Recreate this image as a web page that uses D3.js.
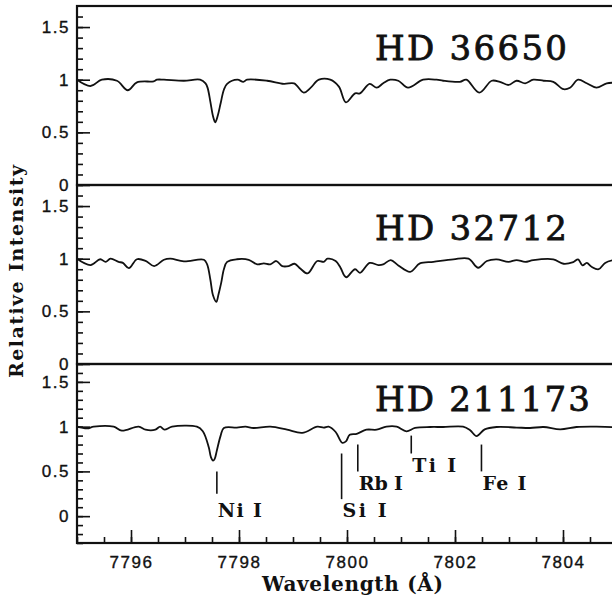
<!DOCTYPE html>
<html>
<head>
<meta charset="utf-8">
<script src="https://cdn.jsdelivr.net/npm/d3@7"></script>
<style>
  body { margin: 0; background: #fff; }
  svg { display: block; }
  .tick text { font-family: "Liberation Sans", Arial, sans-serif; font-size: 17px; fill: #111; stroke: #111; stroke-width: 0.35; letter-spacing: 1.5px; }
  .tick line { stroke: #111; stroke-width: 1.6; }
</style>
</head>
<body>
<svg width="612" height="609"></svg>
<script>
// spectra: [wavelength (A), relative intensity]
const hd36650 = [[7795.00,1.00],[7795.25,0.94],[7795.46,1.00],[7795.74,0.99],[7795.94,0.90],[7796.11,0.975],[7796.42,0.985],[7796.48,1.00],[7796.61,1.00],[7796.98,0.99],[7797.28,1.00],[7797.38,0.965],[7797.42,0.92],[7797.47,0.79],[7797.52,0.65],[7797.56,0.595],[7797.61,0.665],[7797.66,0.776],[7797.72,0.905],[7797.78,0.96],[7797.97,1.00],[7798.08,0.98],[7798.15,1.00],[7798.52,0.99],[7798.83,0.96],[7799.02,0.965],[7799.20,0.877],[7799.32,0.92],[7799.48,1.00],[7799.69,1.00],[7799.85,0.934],[7799.98,0.785],[7800.15,0.87],[7800.24,0.87],[7800.42,0.96],[7800.55,0.924],[7800.67,0.966],[7800.80,1.00],[7800.95,0.99],[7801.13,0.924],[7801.41,1.00],[7801.66,1.00],[7801.78,0.99],[7802.09,0.98],[7802.21,1.00],[7802.45,0.877],[7802.68,0.99],[7802.83,0.98],[7802.99,0.95],[7803.14,0.99],[7803.30,0.966],[7803.45,1.00],[7803.64,0.99],[7803.82,0.98],[7804.01,0.91],[7804.13,0.924],[7804.28,1.00],[7804.44,0.966],[7804.62,0.924],[7804.81,0.966],[7805.00,0.97]]

const hd32712 = [[7795.00,1.00],[7795.25,0.94],[7795.43,0.995],[7795.53,0.97],[7795.62,1.00],[7795.77,0.97],[7795.85,0.96],[7795.96,0.91],[7796.11,0.995],[7796.27,0.98],[7796.43,0.93],[7796.61,0.99],[7796.73,1.00],[7796.98,0.975],[7797.35,0.99],[7797.41,0.946],[7797.47,0.80],[7797.52,0.65],[7797.58,0.59],[7797.62,0.66],[7797.67,0.77],[7797.72,0.90],[7797.78,0.97],[7797.96,0.995],[7798.18,0.99],[7798.34,0.946],[7798.46,0.955],[7798.58,0.946],[7798.69,0.978],[7798.80,0.93],[7798.92,0.93],[7799.03,0.952],[7799.14,0.904],[7799.27,0.86],[7799.45,0.978],[7799.57,0.97],[7799.64,1.00],[7799.79,0.978],[7799.88,0.914],[7799.95,0.84],[7799.99,0.824],[7800.15,0.90],[7800.24,0.866],[7800.42,0.96],[7800.58,0.94],[7800.67,0.946],[7800.81,0.987],[7800.95,0.936],[7801.17,0.875],[7801.35,0.955],[7801.60,0.97],[7801.97,0.994],[7802.25,1.00],[7802.43,0.914],[7802.59,0.978],[7802.77,0.994],[7802.99,0.97],[7803.14,0.987],[7803.30,0.97],[7803.45,0.987],[7803.82,0.994],[7804.01,0.952],[7804.19,0.968],[7804.28,0.994],[7804.36,0.936],[7804.44,0.96],[7804.53,0.923],[7804.66,0.90],[7804.78,0.96],[7804.93,0.987],[7805.00,0.99]]

const hd211173 = [[7795.00,1.00],[7795.19,0.98],[7795.31,1.00],[7795.68,1.00],[7795.83,0.955],[7796.14,1.00],[7796.27,0.966],[7796.45,0.966],[7796.54,1.00],[7796.62,0.966],[7796.76,1.00],[7797.22,1.00],[7797.33,0.948],[7797.44,0.77],[7797.48,0.66],[7797.52,0.62],[7797.55,0.64],[7797.59,0.734],[7797.66,0.90],[7797.72,0.985],[7797.96,0.99],[7798.12,1.00],[7798.27,0.985],[7798.58,1.00],[7798.89,0.966],[7799.17,0.93],[7799.45,1.00],[7799.57,0.99],[7799.66,1.00],[7799.79,0.94],[7799.91,0.82],[7799.98,0.835],[7800.05,0.91],[7800.18,0.92],[7800.36,0.966],[7800.55,0.966],[7800.73,1.00],[7800.92,1.00],[7801.10,0.948],[7801.26,0.985],[7801.54,0.996],[7801.78,0.996],[7802.15,1.00],[7802.28,0.96],[7802.40,0.895],[7802.55,0.97],[7802.77,0.996],[7803.14,0.99],[7803.39,0.985],[7803.64,0.996],[7803.95,0.97],[7804.25,0.996],[7804.62,1.00],[7804.93,0.996],[7805.00,1.00]]

const starNames = ["HD 36650", "HD 32712", "HD 211173"]
const yMins = [0, 0, -0.3]
const yTickLabels = [0, 0.5, 1, 1.5]
const xTickLabels = [7796, 7798, 7800, 7802, 7804]

// line identifications in the last panel: name, wavelength, marker top/bottom, label baseline
const lineNames = ["Ni I", "Si I", "Rb I", "Ti I", "Fe I"]
const lineWaves = [7797.59, 7799.90, 7800.20, 7801.19, 7802.49]
const lineTops = [0.50, 0.70, 0.80, 0.90, 0.80]
const lineBottoms = [0.25, 0.19, 0.50, 0.70, 0.50]
const lineLabelY = [0.0, 0.0, 0.3, 0.5, 0.3]

const spectra = [hd36650, hd32712, hd211173]

const plotLeft = 77, plotTop = 6, panelH = 179, plotW = 540

const svg = d3.select("svg")

const x = d3.scaleLinear().domain([7795, 7805]).range([plotLeft, plotLeft + plotW])

const line = d3.line()
  .x(d => x(d[0]))
  .y(d => d[1])
  .curve(d3.curveCatmullRom.alpha(0.5))

spectra.forEach((data, i) => {
  const y0 = plotTop + i * panelH
  const y = d3.scaleLinear().domain([yMins[i], 1.7]).range([y0 + panelH, y0])
  const g = svg.append("g")

  // minor ticks every 0.1
  const minor = d3.range(Math.round(yMins[i] * 10), 17).map(v => v / 10)
  g.append("g")
    .attr("transform", `translate(${plotLeft},0)`)
    .call(d3.axisRight(y).tickValues(minor).tickSize(6).tickFormat(""))
    .call(a => a.select(".domain").remove())

  g.append("g")
    .attr("transform", `translate(${plotLeft},0)`)
    .call(d3.axisLeft(y).tickValues(yTickLabels).tickSize(-13).tickPadding(7).tickFormat(d3.format("")))
    .call(a => a.select(".domain").remove())

  // spectrum
  g.append("path")
    .datum(data.map(d => [d[0], y(d[1])]))
    .attr("fill", "none")
    .attr("stroke", "#111")
    .attr("stroke-width", 1.8)
    .attr("stroke-linejoin", "round")
    .attr("d", line)

  // frame
  g.append("rect")
    .attr("x", plotLeft).attr("y", y0)
    .attr("width", plotW).attr("height", panelH)
    .attr("fill", "none").attr("stroke", "#111").attr("stroke-width", 2.2)

  g.append("text")
    .attr("x", 375).attr("y", y0 + [54, 55, 47][i])
    .attr("textLength", [192, 192, 215][i])
    .attr("lengthAdjust", "spacing")
    .style("font-family", "'DejaVu Serif', serif")
    .style("font-size", "34px")
    .style("fill", "#111")
    .style("stroke", "#111")
    .style("stroke-width", 0.8)
    .text(starNames[i])

  if (i === 2) {
    lineNames.forEach((name, k) => {
      g.append("line")
        .attr("x1", x(lineWaves[k])).attr("x2", x(lineWaves[k]))
        .attr("y1", y(lineTops[k])).attr("y2", y(lineBottoms[k]))
        .attr("stroke", "#111").attr("stroke-width", 1.6)
      g.append("text")
        .attr("x", x(lineWaves[k]) + 1).attr("y", y(lineLabelY[k]) + 1)
        .attr("textLength", 44).attr("lengthAdjust", "spacing")
        .style("font-family", "'DejaVu Serif', serif")
        .style("font-weight", "bold")
        .style("font-size", "19px")
        .style("fill", "#111")
        .text(name)
    })

    // wavelength axis
    const yb = y0 + panelH
    g.append("g")
      .attr("transform", `translate(0,${yb})`)
      .call(d3.axisBottom(x).tickValues(d3.range(7795, 7805.01, 0.5)).tickSize(-6).tickFormat(""))
      .call(a => a.select(".domain").remove())
    g.append("g")
      .attr("transform", `translate(0,${yb})`)
      .call(d3.axisBottom(x).tickValues(xTickLabels).tickSize(-13).tickPadding(13).tickFormat(d3.format("")))
      .call(a => a.select(".domain").remove())
  }
})

svg.append("text")
  .attr("x", 262).attr("y", 591)
  .attr("textLength", 181).attr("lengthAdjust", "spacing")
  .style("font-family", "'DejaVu Serif', serif")
  .style("font-weight", "bold")
  .style("font-size", "20px")
  .style("fill", "#111")
  .text("Wavelength (Å)")

svg.append("text")
  .attr("transform", "translate(23,378) rotate(-90)")
  .attr("textLength", 213).attr("lengthAdjust", "spacing")
  .style("font-family", "'DejaVu Serif', serif")
  .style("font-weight", "bold")
  .style("font-size", "19px")
  .style("fill", "#111")
  .text("Relative Intensity")
</script>
</body>
</html>
